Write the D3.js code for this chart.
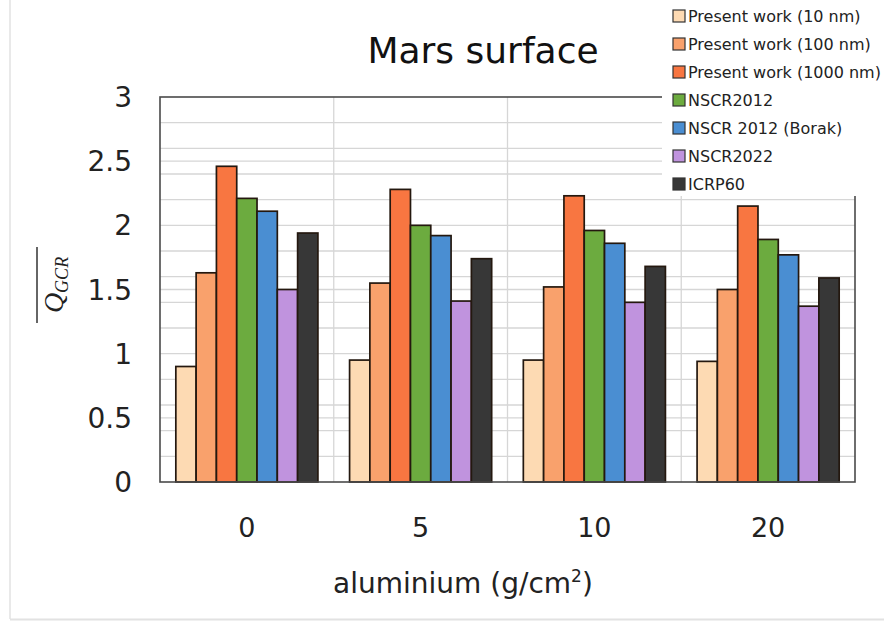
<!DOCTYPE html>
<html>
<head>
<meta charset="utf-8">
<script src="https://cdn.jsdelivr.net/npm/d3@7"></script>
<style>
  html, body { margin: 0; padding: 0; background: #fff; }
  svg { display: block; }
</style>
</head>
<body>
<svg id="chart" width="884" height="623"></svg>
<script>
const categories = ["0", "5", "10", "20"];
const seriesNames = [
  "Present work (10 nm)",
  "Present work (100 nm)",
  "Present work (1000 nm)",
  "NSCR2012",
  "NSCR 2012 (Borak)",
  "NSCR2022",
  "ICRP60"
];
const pw10   = [0.90, 0.95, 0.95, 0.94];
const pw100  = [1.63, 1.55, 1.52, 1.50];
const pw1000 = [2.46, 2.28, 2.23, 2.15];
const nscr2012 = [2.21, 2.00, 1.96, 1.89];
const borak  = [2.11, 1.92, 1.86, 1.77];
const nscr2022 = [1.50, 1.41, 1.40, 1.37];
const icrp60 = [1.94, 1.74, 1.68, 1.59];
const yTicks = [0, 0.5, 1, 1.5, 2, 2.5, 3];
const minorTicks = [0.2, 0.4, 0.6, 0.8, 1.2, 1.4, 1.6, 1.8, 2.2, 2.4, 2.6, 2.8];
const colors = ["#FDDAB3", "#F9A16C", "#F87641", "#6CAB3F", "#4A8ED2", "#C093DE", "#373737"];

const seriesValues = [pw10, pw100, pw1000, nscr2012, borak, nscr2022, icrp60];
const FONT = "DejaVu Sans, Verdana, sans-serif";

const svg = d3.select("#chart");
const M = { left: 160, right: 855, top: 97, bottom: 482 };

// outer panel borders
svg.append("line").attr("x1", 10).attr("x2", 10).attr("y1", 0).attr("y2", 619)
  .attr("stroke", "#e2e2e2").attr("stroke-width", 1.5);
svg.append("line").attr("x1", 10).attr("x2", 884).attr("y1", 619.5).attr("y2", 619.5)
  .attr("stroke", "#e2e2e2").attr("stroke-width", 2);

const x = d3.scaleBand().domain(categories).range([M.left, M.right]).padding(0);
const xs = d3.scaleBand().domain(d3.range(seriesNames.length))
  .range([0, x.bandwidth()]).paddingOuter(0.78).paddingInner(0);
const y = d3.scaleLinear().domain([0, 3]).range([M.bottom, M.top]);

const g = svg.append("g");

// horizontal gridlines
const allGrid = Array.from(new Set(minorTicks.concat(yTicks.slice(1, -1)))).sort((a, b) => a - b);
g.selectAll("line.hgrid").data(allGrid).enter().append("line")
  .attr("class", "hgrid")
  .attr("x1", M.left).attr("x2", M.right)
  .attr("y1", d => y(d)).attr("y2", d => y(d))
  .attr("stroke", "#d6d6d6").attr("stroke-width", 1.3);

// vertical gridlines between categories
g.selectAll("line.vgrid").data(categories.slice(1)).enter().append("line")
  .attr("class", "vgrid")
  .attr("x1", d => x(d)).attr("x2", d => x(d))
  .attr("y1", M.top).attr("y2", M.bottom)
  .attr("stroke", "#d6d6d6").attr("stroke-width", 1.3);

// bars
const barData = [];
categories.forEach((c, ci) => {
  seriesValues.forEach((vals, si) => {
    barData.push({ c, si, v: vals[ci] });
  });
});
g.selectAll("rect.bar").data(barData).enter().append("rect")
  .attr("class", "bar")
  .attr("x", d => x(d.c) + xs(d.si))
  .attr("width", xs.bandwidth())
  .attr("y", d => y(d.v))
  .attr("height", d => y(0) - y(d.v))
  .attr("fill", d => colors[d.si])
  .attr("stroke", "#24180f").attr("stroke-width", 1.7);

// frame
g.append("rect").attr("x", M.left).attr("y", M.top)
  .attr("width", M.right - M.left).attr("height", M.bottom - M.top)
  .attr("fill", "none").attr("stroke", "#4a4a4a").attr("stroke-width", 1.6);

// y tick labels
svg.append("g").selectAll("text").data(yTicks).enter().append("text")
  .attr("x", 132).attr("y", d => y(d)).attr("dy", "0.36em")
  .attr("text-anchor", "end")
  .attr("font-family", FONT)
  .attr("font-size", 28).attr("fill", "#222")
  .text(d => d);

// x tick labels
svg.append("g").selectAll("text").data(categories).enter().append("text")
  .attr("x", d => x(d) + x.bandwidth() / 2).attr("y", 537)
  .attr("text-anchor", "middle")
  .attr("font-family", FONT)
  .attr("font-size", 27).attr("fill", "#222")
  .text(d => d);

// x axis title
const xt = svg.append("text").attr("x", 463).attr("y", 593)
  .attr("text-anchor", "middle")
  .attr("font-family", FONT)
  .attr("font-size", 28).attr("fill", "#222");
xt.append("tspan").text("aluminium (g/cm");
xt.append("tspan").attr("font-size", 17).attr("dy", -11).text("2");
xt.append("tspan").attr("dy", 11).text(")");

// title
svg.append("text").attr("x", 483).attr("y", 63)
  .attr("text-anchor", "middle")
  .attr("font-family", FONT)
  .attr("font-size", 36).attr("fill", "#111")
  .text("Mars surface");

// y axis title (rotated, with overline)
const yt = svg.append("g").attr("transform", "translate(63,285) rotate(-90)");
const ytxt = yt.append("text").attr("text-anchor", "middle")
  .attr("font-family", "Liberation Serif, DejaVu Serif, serif")
  .attr("font-style", "italic").attr("fill", "#222");
ytxt.append("tspan").attr("font-size", 28).text("Q");
ytxt.append("tspan").attr("font-size", 18).attr("dy", 5).text("GCR");
yt.append("line").attr("x1", -38).attr("x2", 38).attr("y1", -26).attr("y2", -26)
  .attr("stroke", "#333").attr("stroke-width", 1.5);

// legend
const lg = svg.append("g");
lg.append("rect").attr("x", 662).attr("y", 0).attr("width", 222).attr("height", 196)
  .attr("fill", "#fff");
const items = lg.selectAll("g.item").data(seriesNames).enter().append("g")
  .attr("class", "item")
  .attr("transform", (d, i) => `translate(673,${16 + i * 28})`);
items.append("rect").attr("x", 0).attr("y", -6).attr("width", 12).attr("height", 12)
  .attr("fill", (d, i) => colors[i]).attr("stroke", "#333").attr("stroke-width", 1.2);
items.append("text").attr("x", 15).attr("y", 0).attr("dy", "0.36em")
  .attr("font-family", FONT)
  .attr("font-size", 16).attr("fill", "#222")
  .text(d => d);
</script>
</body>
</html>
